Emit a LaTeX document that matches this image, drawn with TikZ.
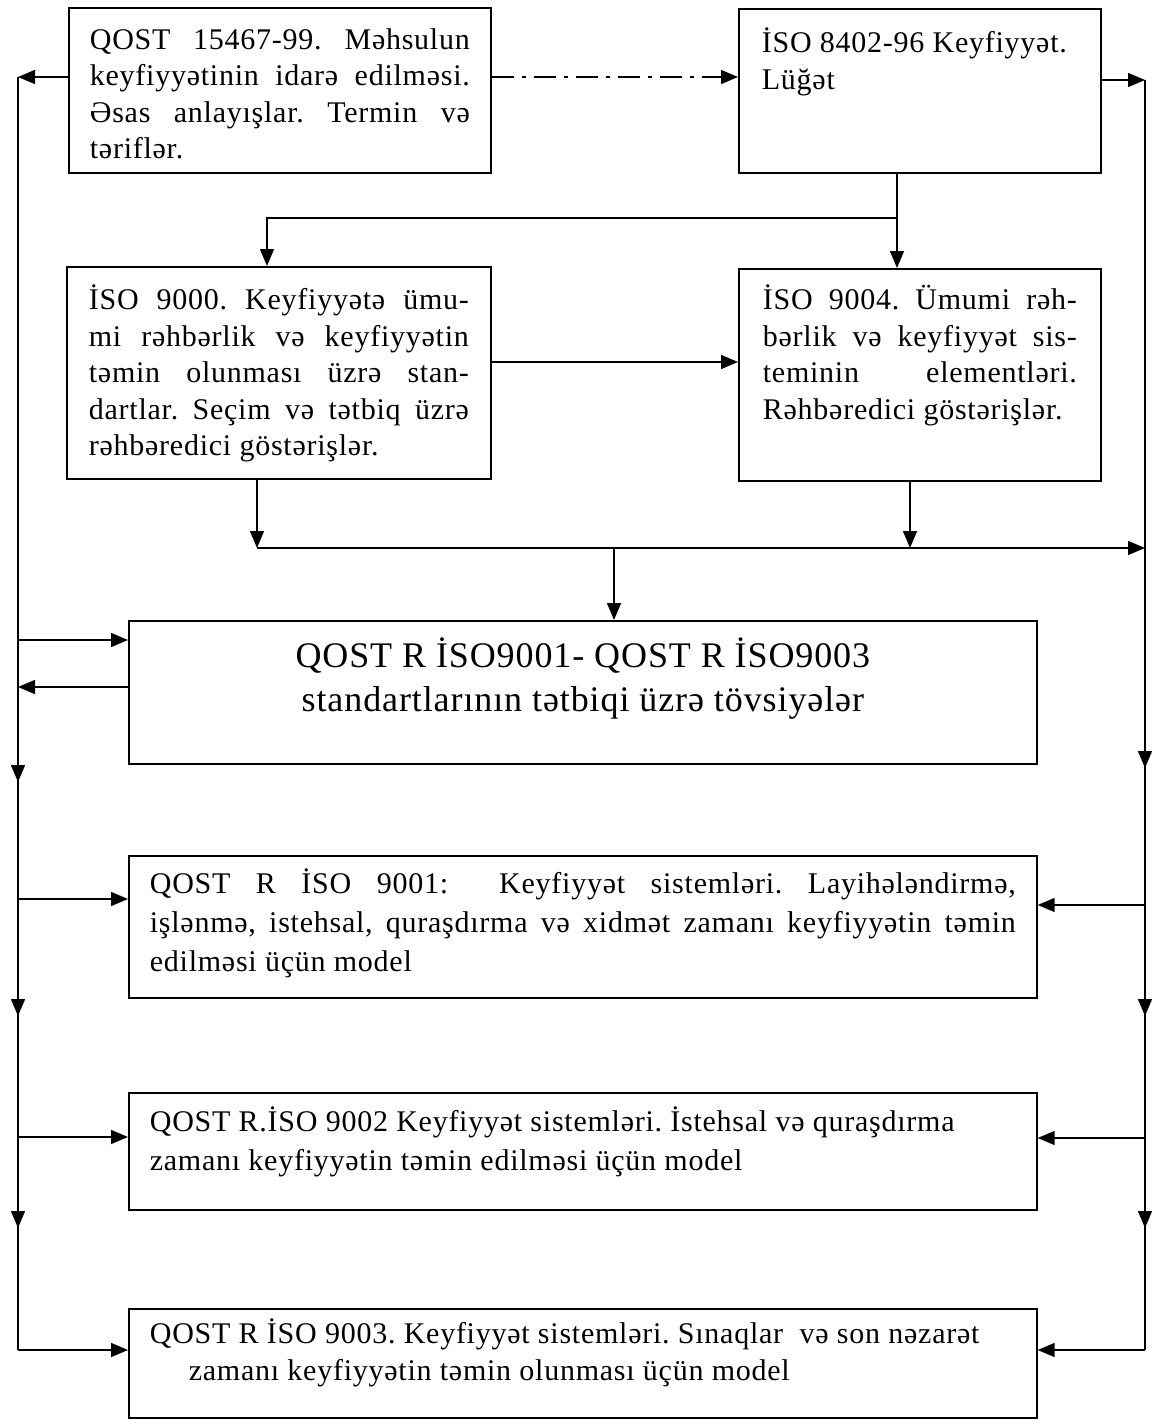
\documentclass[tikz,border=0pt]{standalone}
\usepackage{fontspec}
\setmainfont{Liberation Serif}[LetterSpace=2.5]
\usetikzlibrary{arrows.meta,calc}
% text block of a box: width, height, gap above the first line, text
\newcommand{\inbox}[4]{\parbox[c][#2][t]{#1}{\sloppy\frenchspacing\hyphenpenalty=10000\vspace*{#3}\strut#4}}

\begin{document}
\begin{tikzpicture}[x=1pt,y=-1pt,
    stdbox/.style={draw,line width=1.7pt,anchor=north west,inner ysep=0pt,inner xsep=21pt,
      font=\fontsize{30}{36.5}\selectfont},
    conn/.style={line width=1.5pt},
    arr/.style={conn,-{Triangle[length=17pt,width=14pt]}},
    dashdot/.style={arr,dash pattern=on 22pt off 8pt on 4pt off 8pt}]
  \useasboundingbox (0,0) rectangle (1154,1421);

  % boxes
  \node[stdbox] (qost) at (68,7) {\inbox{380pt}{165pt}{16pt}{QOST 15467-99. Məhsulun\linebreak keyfiyyətinin idarə edilməsi.\linebreak Əsas anlayışlar. Termin və\linebreak təriflər.}};
  \node[stdbox,inner xsep=23pt] (lugat) at (738,8) {\inbox{316pt}{164pt}{18.5pt}{İSO 8402-96 Keyfiyyət.\\ Lüğət}};
  \node[stdbox,inner xsep=22pt] (iso9000) at (66,266) {\inbox{380pt}{212pt}{17.5pt}{İSO 9000. Keyfiyyətə ümu-\linebreak mi rəhbərlik və keyfiyyətin\linebreak təmin olunması üzrə stan-\linebreak dartlar. Seçim və tətbiq üzrə\linebreak rəhbəredici göstərişlər.}};
  \node[stdbox,inner xsep=24pt] (iso9004) at (738,268) {\inbox{314pt}{212pt}{15.5pt}{İSO 9004. Ümumi rəh-\linebreak bərlik və keyfiyyət sis-\linebreak teminin elementləri.\linebreak Rəhbəredici göstərişlər.}};
  \node[stdbox,font=\fontsize{36}{44}\selectfont] (tovsiye) at (128,620) {\inbox{866pt}{143pt}{16pt}{\centering QOST R İSO9001- QOST R İSO9003\\ standartlarının tətbiqi üzrə tövsiyələr}};
  \node[stdbox,font=\fontsize{30}{39}\selectfont] (iso9001) at (128,855) {\inbox{866pt}{142pt}{10.5pt}{QOST R İSO 9001: \ Keyfiyyət sistemləri. Layihələndirmə,\linebreak işlənmə, istehsal, quraşdırma və xidmət zamanı keyfiyyətin təmin\linebreak edilməsi üçün model}};
  \node[stdbox,font=\fontsize{30}{39}\selectfont] (iso9002) at (128,1092) {\inbox{866pt}{117pt}{11.5pt}{\raggedright QOST R.İSO 9002 Keyfiyyət sistemləri. İstehsal və quraşdırma\\ zamanı keyfiyyətin təmin edilməsi üçün model}};
  \node[stdbox] (iso9003) at (128,1308) {\inbox{866pt}{109pt}{9.5pt}{\raggedright QOST R İSO 9003. Keyfiyyət sistemləri. Sınaqlar \ və son nəzarət\\ \hspace*{39pt}zamanı keyfiyyətin təmin olunması üçün model}};

  % side lines
  \coordinate (ltop) at (18,77);
  \coordinate (lbot) at (18,1350);
  \coordinate (rtop) at (1145,80);
  \coordinate (rbot) at (1145,1350);
  \draw[conn] (ltop) -- (lbot);
  \draw[conn] (rtop) -- (rbot);
  \foreach \y in {782,1016,1228}
    \draw[arr] (18,\y-20) -- (18,\y);
  \foreach \y in {768,1016,1228}
    \draw[arr] (1145,\y-20) -- (1145,\y);

  % top row
  \draw[arr] (qost.west |- ltop) -- (ltop);
  \draw[dashdot] (qost.east |- ltop) -- (lugat.west |- ltop);
  \draw[arr] (lugat.east |- rtop) -- (rtop);

  % split under ISO 8402
  \coordinate (split) at (897,218);
  \coordinate (cin) at (267,218);
  \draw[arr] (lugat.south -| split) -- (iso9004.north -| split);
  \draw[arr] (split) -- (cin) -- (iso9000.north -| cin);
  \coordinate (cd) at (600,362);
  \draw[arr] (iso9000.east |- cd) -- (iso9004.west |- cd);

  % joining line
  \coordinate (jl) at (257,548);
  \coordinate (jd) at (910,548);
  \coordinate (je) at (614,548);
  \coordinate (jr) at (1145,548);
  \draw[arr] (iso9000.south -| jl) -- (jl);
  \draw[arr] (iso9004.south -| jd) -- (jd);
  \draw[arr] (jl) -- (jr);
  \draw[arr] (je) -- (tovsiye.north -| je);

  % recommendations box
  \coordinate (ein) at (18,640);
  \coordinate (eout) at (18,687);
  \draw[arr] (ein) -- (tovsiye.west |- ein);
  \draw[arr] (tovsiye.west |- eout) -- (eout);

  % standards
  \foreach \n/\yl/\yr in {iso9001/899/905,iso9002/1137/1138,iso9003/1350/1350}{
    \coordinate (l\n) at (18,\yl);
    \coordinate (r\n) at (1145,\yr);
    \draw[arr] (l\n) -- (\n.west |- l\n);
    \draw[arr] (r\n) -- (\n.east |- r\n);
  }
\end{tikzpicture}
\end{document}
